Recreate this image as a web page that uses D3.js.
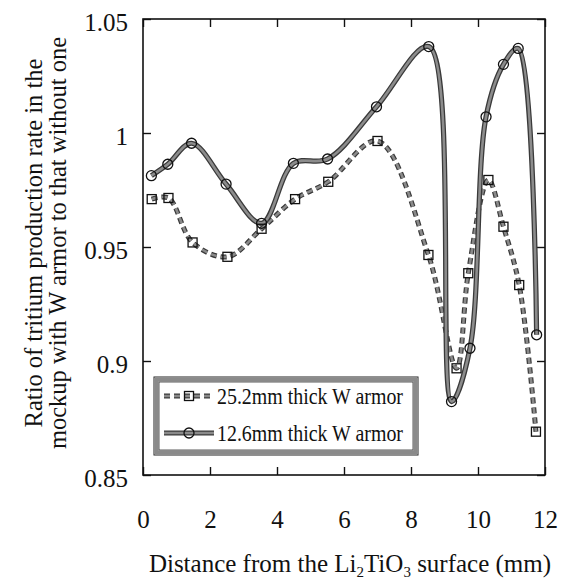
<!DOCTYPE html>
<html>
<head>
<meta charset="utf-8">
<script src="https://cdn.jsdelivr.net/npm/d3@7"></script>
<style>
  html, body { margin: 0; padding: 0; background: #fff; }
  svg { display: block; }
  text { font-family: "Liberation Serif", "Times New Roman", serif; fill: #111; }
</style>
</head>
<body>
<svg id="chart" width="563" height="581"></svg>
<script>
// Distance from the Li2TiO3 surface (mm) and production-rate ratio per series
const armor252X = [0.26, 0.76, 1.48, 2.52, 3.54, 4.54, 5.53, 7.0, 8.52, 9.36, 9.71, 10.31, 10.76, 11.23, 11.73];
const armor252Y = [0.971, 0.9715, 0.952, 0.9457, 0.958, 0.971, 0.9786, 0.9965, 0.9465, 0.8968, 0.9385, 0.9794, 0.9589, 0.9333, 0.869];
const armor126X = [0.25, 0.74, 1.45, 2.48, 3.54, 4.49, 5.51, 6.97, 8.53, 9.21, 9.76, 10.24, 10.76, 11.2, 11.75];
const armor126Y = [0.9813, 0.9863, 0.9955, 0.9776, 0.9604, 0.9867, 0.9886, 1.0115, 1.0379, 0.8822, 0.9056, 1.0071, 1.0301, 1.0371, 0.9115];
const seriesNames = ["25.2mm thick W armor", "12.6mm thick W armor"];
const xTicks = [0, 2, 4, 6, 8, 10, 12];
const yTicks = [0.85, 0.9, 0.95, 1, 1.05];

const svg = d3.select("#chart");
const L = 143, R = 545, T = 19, B = 475;

const x = d3.scaleLinear().domain([0, 12]).range([L, R]);
const y = d3.scaleLinear().domain([0.85, 1.05]).range([B, T]);

// Axes: inward ticks on all four sides
const tickLen = 8;
const axB = svg.append("g").attr("transform", `translate(0,${B})`)
  .call(d3.axisBottom(x).tickValues(xTicks).tickSize(-tickLen).tickPadding(35).tickFormat(d3.format("d")));
const axT = svg.append("g").attr("transform", `translate(0,${T})`)
  .call(d3.axisTop(x).tickValues(xTicks).tickSize(-tickLen).tickFormat(""));
const axL = svg.append("g").attr("transform", `translate(${L},0)`)
  .call(d3.axisLeft(y).tickValues(yTicks).tickSize(-tickLen).tickPadding(15).tickFormat(d => String(+d.toFixed(2))));
const axR = svg.append("g").attr("transform", `translate(${R},0)`)
  .call(d3.axisRight(y).tickValues(yTicks).tickSize(-tickLen).tickFormat(""));

[axB, axT, axL, axR].forEach(a => {
  a.select(".domain").remove();
  a.selectAll(".tick line").attr("stroke", "#111").attr("stroke-width", 1.4);
  a.selectAll(".tick text").attr("font-size", 25).attr("font-family", "Liberation Serif").attr("fill", "#111");
});
axL.selectAll(".tick text").attr("dy", "0.45em");

// Plot frame
svg.append("rect").attr("x", L).attr("y", T).attr("width", R - L).attr("height", B - T)
  .attr("fill", "none").attr("stroke", "#111").attr("stroke-width", 1.6);

const curve = d3.curveCatmullRom.alpha(0.5);
const line = d3.line().x(d => x(d[0])).y(d => y(d[1])).curve(curve);

const data252 = armor252X.map((v, i) => [v, armor252Y[i]]);
const data126 = armor126X.map((v, i) => [v, armor126Y[i]]);

// 25.2mm series: dashed gray line with square markers
svg.append("path").attr("d", line(data252)).attr("fill", "none")
  .attr("stroke", "#3a3a3a").attr("stroke-width", 5).attr("stroke-dasharray", "6,4");
svg.append("path").attr("d", line(data252)).attr("fill", "none")
  .attr("stroke", "#8a8a8a").attr("stroke-width", 2.6).attr("stroke-dasharray", "6,4");

// 12.6mm series: solid gray line with circle markers
svg.append("path").attr("d", line(data126)).attr("fill", "none")
  .attr("stroke", "#3a3a3a").attr("stroke-width", 5.2);
svg.append("path").attr("d", line(data126)).attr("fill", "none")
  .attr("stroke", "#8c8c8c").attr("stroke-width", 2.6);

const sq = 9;
svg.append("g").selectAll("rect").data(data252).join("rect")
  .attr("x", d => x(d[0]) - sq / 2).attr("y", d => y(d[1]) - sq / 2)
  .attr("width", sq).attr("height", sq)
  .attr("fill", "none").attr("stroke", "#111").attr("stroke-width", 1.3);

svg.append("g").selectAll("circle").data(data126).join("circle")
  .attr("cx", d => x(d[0])).attr("cy", d => y(d[1])).attr("r", 5)
  .attr("fill", "none").attr("stroke", "#111").attr("stroke-width", 1.3);

// Legend
const lg = svg.append("g");
lg.append("rect").attr("x", 154).attr("y", 377).attr("width", 264).attr("height", 78)
  .attr("fill", "#fff").attr("stroke", "#222").attr("stroke-width", 1);
lg.append("rect").attr("x", 156.5).attr("y", 379.5).attr("width", 259).attr("height", 73)
  .attr("fill", "none").attr("stroke", "#8a8a8a").attr("stroke-width", 4);
lg.append("rect").attr("x", 159).attr("y", 382).attr("width", 254).attr("height", 68)
  .attr("fill", "none").attr("stroke", "#333").attr("stroke-width", 0.8);

const rows = [
  { y: 396, dashed: true, marker: "square", name: seriesNames[0] },
  { y: 433, dashed: false, marker: "circle", name: seriesNames[1] }
];
rows.forEach(r => {
  const x1 = 164, x2 = 214, cx = (x1 + x2) / 2;
  lg.append("line").attr("x1", x1).attr("x2", x2).attr("y1", r.y).attr("y2", r.y)
    .attr("stroke", "#3a3a3a").attr("stroke-width", 5).attr("stroke-dasharray", r.dashed ? "6,4" : null);
  lg.append("line").attr("x1", x1).attr("x2", x2).attr("y1", r.y).attr("y2", r.y)
    .attr("stroke", "#8a8a8a").attr("stroke-width", 2.6).attr("stroke-dasharray", r.dashed ? "6,4" : null);
  if (r.marker === "square") {
    lg.append("rect").attr("x", cx - sq / 2).attr("y", r.y - sq / 2).attr("width", sq).attr("height", sq)
      .attr("fill", "none").attr("stroke", "#111").attr("stroke-width", 1.3);
  } else {
    lg.append("circle").attr("cx", cx).attr("cy", r.y).attr("r", 5)
      .attr("fill", "none").attr("stroke", "#111").attr("stroke-width", 1.3);
  }
  lg.append("text").attr("x", 217).attr("y", r.y + 7.5).attr("font-size", 23)
    .attr("textLength", 186).attr("lengthAdjust", "spacingAndGlyphs").text(r.name);
});

// Axis titles
const xt = svg.append("text").attr("x", 350).attr("y", 572).attr("text-anchor", "middle").attr("font-size", 25);
xt.append("tspan").text("Distance from the Li");
xt.append("tspan").attr("font-size", 15).attr("dy", 5).text("2");
xt.append("tspan").attr("dy", -5).text("TiO");
xt.append("tspan").attr("font-size", 15).attr("dy", 5).text("3");
xt.append("tspan").attr("dy", -5).text(" surface (mm)");

const yt = svg.append("g").attr("transform", "translate(0,243) rotate(-90)");
yt.append("text").attr("x", 0).attr("y", 42).attr("text-anchor", "middle").attr("font-size", 24.5)
  .text("Ratio of tritium production rate in the");
yt.append("text").attr("x", 0).attr("y", 66).attr("text-anchor", "middle").attr("font-size", 24.5)
  .text("mockup with W armor to that without one");
</script>
</body>
</html>
